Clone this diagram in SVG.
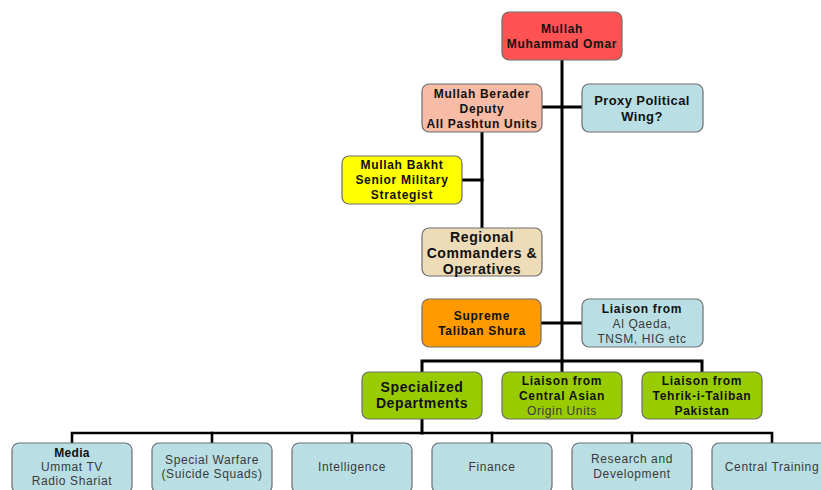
<svg xmlns="http://www.w3.org/2000/svg" width="821" height="490" viewBox="0 0 821 490">
  <style>
    .box { stroke: #6e6e6e; stroke-width: 1.2; }
    .red { fill: #FF5252; }
    .salmon { fill: #F8BBA6; }
    .blue { fill: #B9DFE4; }
    .yellow { fill: #FFFF00; }
    .tan { fill: #EEDBB7; }
    .orange { fill: #FF9A00; }
    .green { fill: #99CC00; }
    text { font-family: "Liberation Sans", Arial, sans-serif; text-anchor: middle; fill: #111; }
    .b12 { font-size: 12px; font-weight: bold; letter-spacing: 0.7px; }
    .b13 { font-size: 13px; font-weight: bold; letter-spacing: 0.4px; }
    .b14 { font-size: 14px; font-weight: bold; letter-spacing: 0.6px; }
    .n12 { font-size: 12px; letter-spacing: 0.6px; fill: #3a3a3a; }
    .conn { stroke: #000; stroke-width: 3; fill: none; stroke-linecap: square; }
  </style>

  <g id="connectors" class="conn">
    <path d="M562 60 V361"/>
    <path d="M542 107 H582"/>
    <path d="M482 132 V228"/>
    <path d="M462 180 H482"/>
    <path d="M541 323 H582"/>
    <path d="M422 372 V361 H702 V372"/>
    <path d="M562 361 V372"/>
    <path d="M422 419 V433"/>
    <path d="M72 443 V433 H772 V443" stroke-width="2.6"/>
    <path d="M212 433 V443 M352 433 V443 M492 433 V443 M632 433 V443" stroke-width="2.6"/>
  </g>

  <g id="omar">
    <rect class="box red" x="502" y="12" width="120" height="48" rx="7"/>
    <text class="b12" x="562" y="33">Mullah</text>
    <text class="b12" x="562" y="48">Muhammad Omar</text>
  </g>

  <g id="berader">
    <rect class="box salmon" x="422" y="84" width="120" height="48" rx="7"/>
    <text class="b12" x="482" y="98">Mullah Berader</text>
    <text class="b12" x="482" y="113">Deputy</text>
    <text class="b12" x="482" y="128">All Pashtun Units</text>
  </g>

  <g id="proxy">
    <rect class="box blue" x="582" y="84" width="121" height="48" rx="7"/>
    <text class="b13" x="642" y="105">Proxy Political</text>
    <text class="b13" x="642" y="121">Wing?</text>
  </g>

  <g id="bakht">
    <rect class="box yellow" x="342" y="156" width="120" height="48" rx="7"/>
    <text class="b12" x="402" y="169">Mullah Bakht</text>
    <text class="b12" x="402" y="184">Senior Military</text>
    <text class="b12" x="402" y="199">Strategist</text>
  </g>

  <g id="regional">
    <rect class="box tan" x="422" y="228" width="120" height="48" rx="7"/>
    <text class="b14" x="482" y="242">Regional</text>
    <text class="b14" x="482" y="258">Commanders &amp;</text>
    <text class="b14" x="482" y="274">Operatives</text>
  </g>

  <g id="shura">
    <rect class="box orange" x="422" y="299" width="119" height="48" rx="7"/>
    <text class="b12" x="482" y="320">Supreme</text>
    <text class="b12" x="482" y="335">Taliban Shura</text>
  </g>

  <g id="liaison-alqaeda">
    <rect class="box blue" x="582" y="299" width="121" height="48" rx="7"/>
    <text class="b12" x="642" y="313">Liaison from</text>
    <text class="n12" x="642" y="328">Al Qaeda,</text>
    <text class="n12" x="642" y="343">TNSM, HIG etc</text>
  </g>

  <g id="specialized">
    <rect class="box green" x="362" y="372" width="120" height="47" rx="7"/>
    <text class="b14" x="422" y="392">Specialized</text>
    <text class="b14" x="422" y="408">Departments</text>
  </g>

  <g id="liaison-central-asian">
    <rect class="box green" x="502" y="372" width="120" height="47" rx="7"/>
    <text class="b12" x="562" y="385">Liaison from</text>
    <text class="b12" x="562" y="400">Central Asian</text>
    <text class="n12" x="562" y="415">Origin Units</text>
  </g>

  <g id="liaison-ttp">
    <rect class="box green" x="642" y="372" width="120" height="47" rx="7"/>
    <text class="b12" x="702" y="385">Liaison from</text>
    <text class="b12" x="702" y="400">Tehrik-i-Taliban</text>
    <text class="b12" x="702" y="415">Pakistan</text>
  </g>

  <g id="media">
    <rect class="box blue" x="12" y="443" width="120" height="50" rx="7"/>
    <text class="b12" x="72" y="457" style="letter-spacing:0.3px">Media</text>
    <text class="n12" x="72" y="471">Ummat TV</text>
    <text class="n12" x="72" y="485">Radio Shariat</text>
  </g>

  <g id="special-warfare">
    <rect class="box blue" x="152" y="443" width="120" height="50" rx="7"/>
    <text class="n12" x="212" y="464">Special Warfare</text>
    <text class="n12" x="212" y="478">(Suicide Squads)</text>
  </g>

  <g id="intelligence">
    <rect class="box blue" x="292" y="443" width="120" height="50" rx="7"/>
    <text class="n12" x="352" y="471">Intelligence</text>
  </g>

  <g id="finance">
    <rect class="box blue" x="432" y="443" width="120" height="50" rx="7"/>
    <text class="n12" x="492" y="471">Finance</text>
  </g>

  <g id="research">
    <rect class="box blue" x="572" y="443" width="120" height="50" rx="7"/>
    <text class="n12" x="632" y="463">Research and</text>
    <text class="n12" x="632" y="478">Development</text>
  </g>

  <g id="central-training">
    <rect class="box blue" x="712" y="443" width="120" height="50" rx="7"/>
    <text class="n12" x="772" y="471">Central Training</text>
  </g>
</svg>
